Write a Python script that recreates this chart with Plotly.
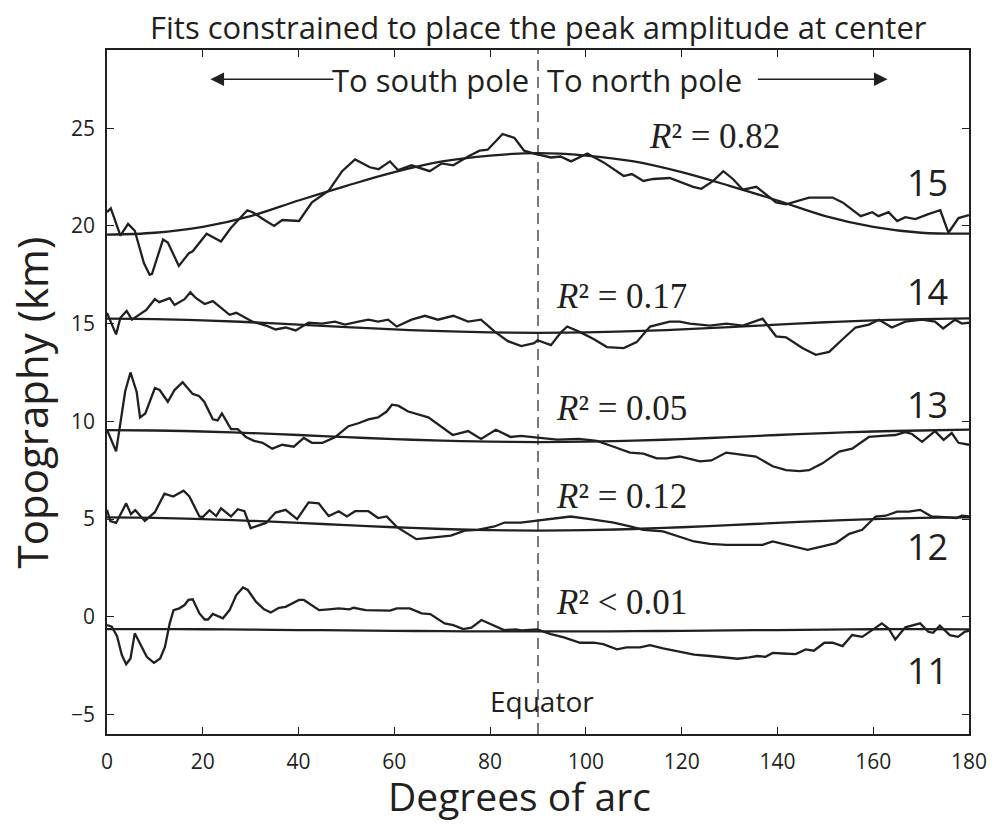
import plotly.graph_objects as go

# ---------------- data ----------------
profile_names = ["11", "12", "13", "14", "15"]

p15 = [(0, 20.7), (0.8, 20.9), (2.8, 19.5), (4.4, 20.1), (5.8, 19.75), (7.7, 18.1), (8.9, 17.5),
       (9.4, 17.55), (11.7, 19.3), (12.7, 19.15), (15.0, 17.95), (17.1, 18.6), (17.9, 18.7),
       (20.8, 19.6), (23.8, 19.2), (25.9, 19.9), (29.3, 20.8), (30.4, 20.7), (33.2, 20.25),
       (34.9, 20.0), (36.6, 20.3), (40.1, 20.25), (42.8, 21.2), (46.3, 21.8), (49.1, 22.8),
       (51.8, 23.4), (54.9, 23.0), (56.7, 22.9), (59.1, 23.3), (60.8, 22.85), (63.6, 23.1),
       (67.4, 22.8), (69.9, 23.2), (72.3, 23.1), (75.4, 23.55), (77.8, 23.85), (79.5, 23.9),
       (82.6, 24.7), (85.1, 24.5), (87.1, 23.85), (89.2, 23.7), (92.7, 23.5), (94.7, 23.55),
       (96.9, 23.3), (100.3, 23.7), (103.7, 23.25), (107.9, 22.55), (109.6, 22.65), (112.0, 22.3),
       (114.1, 22.4), (117.5, 22.45), (120.3, 22.2), (122.4, 22.0), (124.1, 21.9), (126.6, 22.3),
       (128.7, 22.8), (130.7, 22.4), (132.8, 21.85), (135.6, 22.0), (139.7, 21.2), (141.8, 21.1),
       (146.6, 21.45), (151.5, 21.45), (153.6, 21.2), (157.4, 20.5), (159.8, 20.7), (161.1, 20.5),
       (163.2, 20.7), (165.0, 20.25), (166.7, 20.45), (168.8, 20.35), (171.5, 20.6), (174.0, 20.8),
       (175.7, 19.65), (177.8, 20.4), (180, 20.55)]

p14 = [(0, 15.55), (0.8, 15.1), (1.9, 14.45), (2.8, 15.3), (4.1, 15.65), (5.2, 15.2), (8.2, 15.7),
       (10.0, 16.25), (10.9, 16.1), (13.1, 16.3), (14.1, 15.95), (16.2, 16.25), (17.4, 16.6),
       (18.6, 16.3), (20.4, 16.0), (22.1, 16.15), (24.2, 15.7), (25.6, 15.45), (27.0, 15.55),
       (30.4, 15.1), (33.2, 14.9), (35.2, 14.7), (37.3, 14.8), (39.4, 14.65), (42.1, 15.05),
       (44.9, 15.0), (47.6, 15.1), (49.7, 14.95), (52.5, 15.1), (54.6, 15.2), (56.6, 15.1),
       (58.7, 15.2), (60.5, 14.85), (63.6, 15.2), (66.4, 15.4), (69.1, 15.2), (72.3, 15.4),
       (75.4, 15.1), (78.1, 15.2), (80.9, 14.6), (83.7, 14.1), (86.5, 13.85), (89.2, 14.0),
       (89.9, 14.15), (92.7, 13.9), (94.8, 14.55), (96.1, 14.85), (98.9, 14.55), (101.7, 14.2),
       (104.4, 13.8), (107.9, 13.75), (110.6, 14.05), (113.4, 14.85), (117.5, 15.1), (119.6, 15.1),
       (121.7, 15.0), (125.9, 14.9), (129.3, 15.0), (132.8, 14.9), (136.9, 15.25), (138.3, 14.8),
       (139.7, 14.35), (141.8, 14.3), (145.2, 13.75), (148.0, 13.4), (150.8, 13.55), (153.6, 14.2),
       (156.3, 14.8), (159.1, 14.95), (161.2, 15.2), (163.9, 14.8), (166.7, 15.1), (170.2, 15.2),
       (172.9, 15.1), (174.6, 14.75), (177.1, 15.2), (178.5, 15.0), (180, 15.05)]

p13 = [(0, 9.57), (1.9, 8.46), (3.8, 11.54), (4.9, 12.5), (6.2, 11.5), (6.9, 10.2), (8.0, 10.4),
       (10.0, 11.7), (11.0, 11.6), (12.7, 11.0), (14.1, 11.6), (15.8, 12.0), (17.9, 11.4),
       (19.2, 11.3), (20.3, 11.0), (22.1, 10.1), (23.1, 10.05), (24.0, 10.4), (25.9, 9.6),
       (27.3, 9.6), (29.0, 9.2), (30.7, 9.0), (32.5, 8.9), (34.5, 8.6), (36.6, 8.8), (39.0, 8.7),
       (41.1, 9.15), (42.8, 8.9), (45.0, 8.9), (47.7, 9.2), (50.4, 9.75), (52.5, 9.9), (54.6, 10.1),
       (56.6, 10.2), (58.4, 10.5), (59.5, 10.85), (60.8, 10.8), (62.9, 10.5), (67.1, 10.2),
       (69.9, 9.7), (72.2, 9.3), (75.4, 9.5), (78.1, 9.1), (81.2, 9.57), (84.3, 9.2), (86.4, 9.25),
       (89.9, 9.15), (94.0, 9.06), (98.5, 9.1), (102.3, 9.0), (105.8, 8.7), (109.2, 8.4),
       (112.0, 8.35), (114.8, 8.1), (116.9, 8.1), (119.6, 8.2), (123.8, 7.95), (126.2, 8.0),
       (129.3, 8.4), (132.1, 8.3), (135.5, 8.2), (139.0, 7.7), (141.8, 7.5), (144.6, 7.45),
       (146.6, 7.5), (149.4, 7.85), (152.9, 8.45), (155.6, 8.6), (159.1, 9.2), (161.8, 9.25),
       (164.6, 9.3), (166.7, 9.45), (168.1, 9.35), (170.2, 8.95), (172.9, 9.5), (174.7, 9.05),
       (176.4, 9.4), (177.8, 8.9), (180, 8.8)]

p12 = [(0, 5.47), (0.7, 4.9), (1.9, 4.8), (4.0, 5.8), (5.0, 5.25), (5.9, 5.45), (7.9, 4.9),
       (10.0, 5.35), (12.0, 6.3), (13.8, 6.15), (16.0, 6.45), (17.2, 6.15), (19.3, 5.13),
       (20.0, 5.1), (21.4, 5.45), (22.8, 5.15), (23.8, 5.55), (25.9, 5.13), (27.3, 5.5),
       (28.7, 5.4), (30.0, 4.53), (31.8, 4.7), (33.2, 4.8), (35.2, 5.33), (37.3, 5.47), (39.7, 5.0),
       (42.1, 5.85), (44.2, 5.8), (46.3, 5.15), (48.4, 5.4), (50.1, 5.13), (51.8, 5.4), (54.6, 5.4),
       (56.6, 5.05), (58.4, 5.13), (60.5, 4.6), (64.6, 3.97), (67.8, 4.05), (71.8, 4.15),
       (74.7, 4.41), (77.4, 4.45), (80.9, 4.62), (83.0, 4.82), (86.4, 4.82), (89.9, 4.92),
       (93.4, 5.0), (96.8, 5.13), (100.9, 5.0), (105.8, 4.82), (109.2, 4.62), (112.0, 4.45),
       (116.1, 4.37), (119.6, 4.07), (122.6, 3.85), (125.9, 3.73), (129.3, 3.68), (132.8, 3.68),
       (136.9, 3.68), (139.0, 3.85), (141.8, 3.68), (146.3, 3.42), (149.4, 3.6), (152.2, 3.77),
       (155.0, 4.24), (157.7, 4.45), (160.5, 5.13), (162.6, 5.17), (165.0, 5.38), (167.4, 5.38),
       (169.8, 5.47), (172.2, 5.13), (174.9, 5.1), (177.4, 5.05), (178.5, 5.17), (180, 5.13)]

p11 = [(0, -0.43), (1.0, -0.51), (2.1, -1.0), (3.1, -1.96), (4.0, -2.43), (4.9, -2.14), (5.8, -0.85),
       (6.9, -1.36), (8.3, -2.05), (9.8, -2.36), (11.1, -2.14), (12.1, -1.55), (13.1, -0.34),
       (13.9, 0.34), (15.1, 0.43), (16.2, 0.6), (17.0, 0.86), (17.9, 0.89), (19.3, 0.17),
       (20.4, -0.14), (21.1, -0.14), (22.1, 0.14), (24.2, -0.08), (25.6, 0.34), (27.0, 1.11),
       (28.4, 1.5), (29.4, 1.37), (31.1, 0.77), (32.8, 0.38), (34.2, 0.22), (35.9, 0.46),
       (37.3, 0.51), (40.1, 0.86), (41.1, 0.86), (44.3, 0.34), (46.3, 0.38), (48.4, 0.43),
       (50.6, 0.38), (51.5, 0.46), (54.0, 0.34), (56.7, 0.34), (59.1, 0.31), (60.5, 0.43),
       (63.2, 0.43), (65.7, 0.17), (67.5, 0.14), (70.5, -0.34), (72.3, -0.43), (74.4, -0.63),
       (76.1, -0.56), (78.2, -0.17), (80.2, -0.38), (82.9, -0.68), (85.3, -0.65), (86.6, -0.7),
       (89.8, -0.65), (92.7, -0.89), (95.4, -1.06), (98.8, -1.33), (101.6, -1.33), (103.6, -1.4),
       (106.5, -1.67), (108.5, -1.57), (111.3, -1.57), (113.4, -1.45), (116.1, -1.62), (119.5, -1.8),
       (122.6, -1.94), (125.9, -2.01), (129.3, -2.08), (131.7, -2.15), (134.1, -2.08), (135.8, -2.01),
       (137.5, -2.05), (139.0, -1.85), (141.1, -1.88), (143.8, -1.91), (145.9, -1.67), (147.6, -1.74),
       (149.8, -1.33), (151.5, -1.33), (153.6, -1.5), (155.6, -0.94), (157.7, -1.03), (160.1, -0.65),
       (161.8, -0.34), (163.2, -0.6), (164.6, -1.16), (166.7, -0.54), (168.1, -0.46), (169.8, -0.34),
       (171.5, -0.77), (172.5, -0.82), (173.9, -0.46), (176.0, -0.94), (177.7, -1.03), (179.1, -0.77),
       (180, -0.72)]

# fitted curves, read every 10 degrees
fit_x = [0, 10, 20, 30, 40, 50, 60, 70, 80, 90, 100, 110, 120, 130, 140, 150, 160, 170, 180]
fit15 = [19.55, 19.65, 19.95, 20.5, 21.3, 22.05, 22.75, 23.3, 23.6, 23.72,
         23.6, 23.3, 22.75, 22.05, 21.3, 20.5, 19.95, 19.65, 19.6]
fit14 = [15.25, 15.23, 15.17, 15.07, 14.95, 14.82, 14.7, 14.61, 14.55, 14.53,
         14.55, 14.61, 14.7, 14.82, 14.95, 15.07, 15.17, 15.23, 15.27]
fit13 = [9.55, 9.53, 9.48, 9.40, 9.30, 9.19, 9.09, 9.01, 8.96, 8.94,
         8.96, 9.01, 9.09, 9.19, 9.30, 9.40, 9.48, 9.53, 9.57]
fit12 = [5.08, 5.06, 5.0, 4.91, 4.80, 4.69, 4.58, 4.49, 4.43, 4.41,
         4.43, 4.49, 4.58, 4.69, 4.80, 4.91, 5.0, 5.06, 5.08]
fit11 = [-0.63, -0.63, -0.64, -0.66, -0.68, -0.70, -0.72, -0.74, -0.75, -0.75,
         -0.75, -0.74, -0.72, -0.70, -0.68, -0.66, -0.64, -0.63, -0.65]

r2_labels = ["<i>R</i>²\u00a0&lt;\u00a00.01", "<i>R</i>²\u00a0=\u00a00.12", "<i>R</i>²\u00a0=\u00a00.05",
             "<i>R</i>²\u00a0=\u00a00.17", "<i>R</i>²\u00a0=\u00a00.82"]

x_ticks = [0, 20, 40, 60, 80, 100, 120, 140, 160, 180]
y_ticks = [-5, 0, 5, 10, 15, 20, 25]
equator_deg = 90

# ---------------- styling / layout ----------------
INK = "#231f20"
SANS = "Open Sans, Noto Sans, sans-serif"
SERIF = "Liberation Serif, Times New Roman, serif"

profiles = [p11, p12, p13, p14, p15]
fits = [fit11, fit12, fit13, fit14, fit15]

fig = go.Figure()
for name, prof, fit in zip(profile_names, profiles, fits):
    xs, ys = zip(*prof)
    fig.add_trace(go.Scatter(x=list(xs), y=list(ys), mode="lines",
                             line=dict(color=INK, width=2.3), name=name, showlegend=False))
    fig.add_trace(go.Scatter(x=fit_x, y=fit, mode="lines",
                             line=dict(color=INK, width=2.3, shape="spline"),
                             name=name + " fit", showlegend=False))

fig.add_shape(type="line", x0=equator_deg, x1=equator_deg, y0=0, y1=1, xref="x", yref="paper",
              line=dict(color=INK, width=1.2, dash="11px,6px"), layer="below")

ann = []
# title
ann.append(dict(text="Fits constrained to place the peak amplitude at center", xref="paper", yref="paper",
                x=0.5, y=1.033, xanchor="center", yanchor="middle", showarrow=False,
                font=dict(family=SANS, size=31, color=INK)))
# axis titles
ann.append(dict(text="Degrees of arc", xref="paper", yref="paper", x=0.479, y=-0.09,
                xanchor="center", yanchor="middle", showarrow=False,
                font=dict(family=SANS, size=39, color=INK)))
ann.append(dict(text="Topography (km)", xref="paper", yref="paper", x=-0.088, y=0.485,
                xanchor="center", yanchor="middle", showarrow=False, textangle=-90,
                font=dict(family=SANS, size=42, color=INK)))
# pole directions
ann.append(dict(text="To south pole", x=88.6, y=27.45, xanchor="right", yanchor="middle",
                showarrow=False, font=dict(family=SANS, size=31, color=INK)))
ann.append(dict(text="To north pole", x=91.4, y=27.45, xanchor="left", yanchor="middle",
                showarrow=False, font=dict(family=SANS, size=31, color=INK)))
ann.append(dict(text="", x=21.6, y=27.5, ax=47.6, ay=27.5, axref="x", ayref="y",
                showarrow=True, arrowhead=2, arrowsize=1.7, arrowwidth=1.6, arrowcolor=INK))
ann.append(dict(text="", x=163.0, y=27.5, ax=135.6, ay=27.5, axref="x", ayref="y",
                showarrow=True, arrowhead=2, arrowsize=1.7, arrowwidth=1.6, arrowcolor=INK))
# equator
ann.append(dict(text="Equator", x=90.9, y=-4.3, xanchor="center", yanchor="middle",
                showarrow=False, font=dict(family=SANS, size=28, color=INK)))
# R^2 labels
r2_pos = [(93.4, 0.75), (93.4, 6.14), (93.4, 10.65), (93.4, 16.4), (112.7, 24.55)]
for lab, (px, py) in zip(r2_labels, r2_pos):
    ann.append(dict(text=lab, x=px, y=py, xanchor="left", yanchor="middle", showarrow=False,
                    font=dict(family=SERIF, size=35, color=INK)))
# profile numbers
num_pos = [(171.3, -2.73), (171.3, 3.57), (171.3, 10.86), (171.3, 16.65), (171.3, 22.2)]
for lab, (px, py) in zip(profile_names, num_pos):
    ann.append(dict(text=lab, x=px, y=py, xanchor="center", yanchor="middle", showarrow=False,
                    font=dict(family=SANS, size=36, color=INK)))

axis_common = dict(showgrid=False, zeroline=False, showline=True, linecolor=INK, linewidth=1.5,
                   mirror="ticks", ticks="inside", ticklen=7, tickwidth=1.3, tickcolor=INK,
                   tickfont=dict(family=SANS, size=21, color=INK))

fig.update_layout(
    width=999, height=824,
    margin=dict(l=107, r=25, t=50, b=90),
    paper_bgcolor="white", plot_bgcolor="white",
    xaxis=dict(range=[0, 180], tickvals=x_ticks, ticklabelstandoff=8, **axis_common),
    yaxis=dict(range=[-6, 29], tickvals=y_ticks, ticklabelstandoff=6, **axis_common),
    annotations=ann,
)

fig.write_html("out.html")
